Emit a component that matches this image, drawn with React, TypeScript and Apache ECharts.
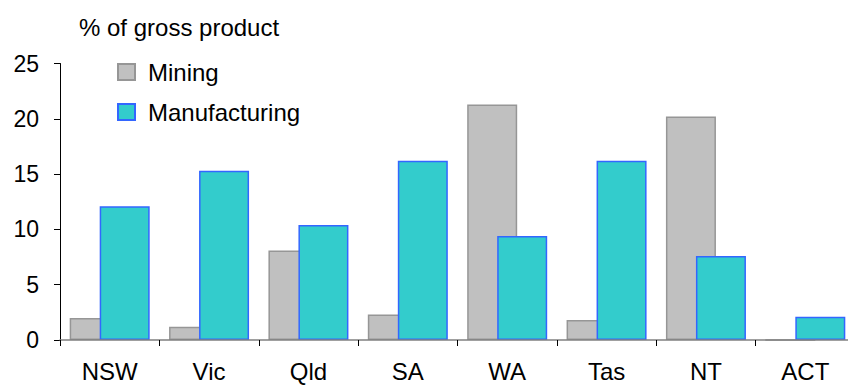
import React, { useEffect, useRef } from "react";
import * as echarts from "echarts";

const categories = ["NSW", "Vic", "Qld", "SA", "WA", "Tas", "NT", "ACT"];
const mining = [2.0, 1.2, 8.1, 2.3, 21.3, 1.8, 20.2, 0];
const manufacturing = [12.1, 15.3, 10.4, 16.2, 9.4, 16.2, 7.6, 2.1];
const yTicks = { min: 0, max: 25, interval: 5 };
const titleText = "% of gross product";
const seriesNames = ["Mining", "Manufacturing"];

const FONT = "'Liberation Sans', Arial, sans-serif";

export default function App() {
  const ref = useRef<HTMLDivElement>(null);
  useEffect(() => {
    if (!ref.current) return;
    const chart = echarts.init(ref.current, undefined, { renderer: "svg" });
    chart.setOption({
      animation: false,
      backgroundColor: "#ffffff",
      textStyle: { fontFamily: FONT },
      title: {
        text: titleText,
        left: 79,
        top: 15,
        padding: 0,
        textStyle: { fontSize: 24, fontWeight: "normal", color: "#000", fontFamily: FONT },
      },
      legend: {
        orient: "vertical",
        left: 117,
        top: 60,
        padding: 0,
        itemWidth: 17,
        itemHeight: 16,
        itemGap: 16,
        icon: "rect",
        textStyle: { fontSize: 24, color: "#000", fontFamily: FONT, padding: [0, 0, 0, 8] },
        data: seriesNames,
      },
      grid: {
        left: 60,
        top: 63.5,
        width: 795,
        height: 276.5,
        containLabel: false,
        outerBoundsMode: "none",
      },
      xAxis: {
        type: "category",
        data: categories,
        z: 5,
        axisLine: { lineStyle: { color: "#808080", width: 1.5 } },
        axisTick: { show: true, length: 6, alignWithLabel: false, lineStyle: { color: "#000", width: 1 } },
        axisLabel: { fontSize: 24, lineHeight: 24, color: "#000", fontFamily: FONT, margin: 19 },
        splitLine: { show: false },
      },
      yAxis: {
        type: "value",
        min: yTicks.min,
        max: yTicks.max,
        interval: yTicks.interval,
        axisLine: { show: true, lineStyle: { color: "#000", width: 1 } },
        axisTick: { show: true, length: 6, lineStyle: { color: "#000" } },
        axisLabel: { fontSize: 23, color: "#000", fontFamily: FONT, margin: 21 },
        splitLine: { show: false },
      },
      series: [
        {
          name: seriesNames[0],
          type: "bar",
          data: mining,
          barWidth: 50,
          barGap: "-40%",
          itemStyle: { color: "#C0C0C0", borderColor: "#969696", borderWidth: 1.5 },
        },
        {
          name: seriesNames[1],
          type: "bar",
          data: manufacturing,
          barWidth: 50,
          barGap: "-40%",
          itemStyle: { color: "#33CCCC", borderColor: "#3366FF", borderWidth: 1.5 },
        },
      ],
    });
    return () => chart.dispose();
  }, []);
  return (
    <div
      ref={ref}
      style={{ position: "fixed", left: 0, top: 0, width: 848, height: 385 }}
    />
  );
}
